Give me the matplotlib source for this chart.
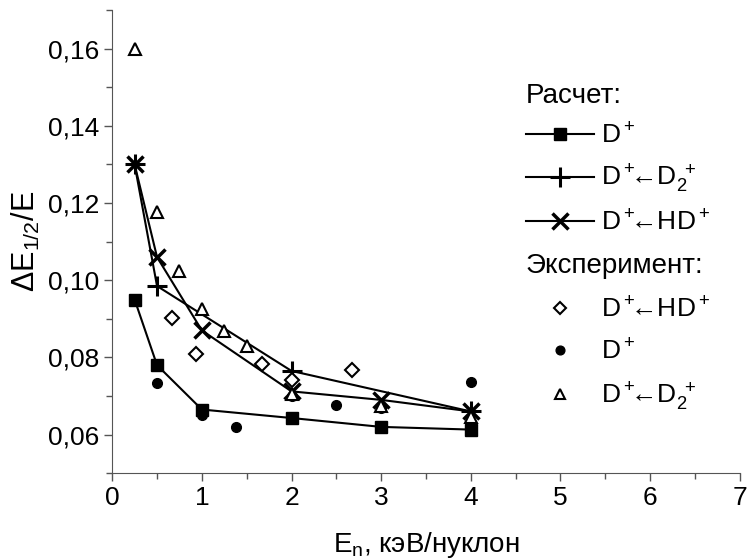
import matplotlib
matplotlib.use('Agg')
from matplotlib import pyplot as plt
from matplotlib.ticker import MultipleLocator, FuncFormatter

plt.rcParams['font.family'] = ['Liberation Sans', 'DejaVu Sans']
plt.rcParams['mathtext.fontset'] = 'custom'
plt.rcParams['mathtext.rm'] = 'Liberation Sans'
plt.rcParams['mathtext.it'] = 'Liberation Sans'
plt.rcParams['mathtext.default'] = 'regular'

# расчет
calc_d_x = [0.25, 0.5, 1, 2, 3, 4]
calc_d_y = [0.095, 0.078, 0.0665, 0.0643, 0.062, 0.0613]
calc_d2_x = [0.25, 0.5, 2, 4]
calc_d2_y = [0.130, 0.0985, 0.0765, 0.066]
calc_hd_x = [0.25, 0.5, 1, 2, 3, 4]
calc_hd_y = [0.130, 0.106, 0.087, 0.0712, 0.0690, 0.066]

# эксперимент
exp_hd_x = [0.67, 0.93, 1.67, 2.0, 2.68]
exp_hd_y = [0.0903, 0.0808, 0.0783, 0.0742, 0.0768]
exp_d_x = [0.5, 1.0, 1.38, 2.0, 2.5, 3.0, 4.0]
exp_d_y = [0.0734, 0.0652, 0.0620, 0.0700, 0.0678, 0.0670, 0.0736]
exp_d2_x = [0.25, 0.5, 0.75, 1.0, 1.25, 1.5, 2.0, 3.0, 4.0]
exp_d2_y = [0.160, 0.1177, 0.1023, 0.0926, 0.0869, 0.0830, 0.0705, 0.0675, 0.0645]

lbl_d = r'D$^+$'
lbl_d2 = r'D$^+\!\!$←D$_2^{\ +}$'
lbl_hd = r'D$^+\!\!$←HD$^+$'

fig = plt.figure(figsize=(7.48, 5.6), dpi=100)
ax = fig.add_axes([0.150, 0.155, 0.839, 0.827])

h1, = ax.plot(calc_d_x, calc_d_y, '-s', color='black', lw=1.5, ms=9, label=lbl_d)
h2, = ax.plot(calc_d2_x, calc_d2_y, '-+', color='black', lw=1.5, ms=14, mew=2.2, label=lbl_d2)
h3, = ax.plot(calc_hd_x, calc_hd_y, '-x', color='black', lw=1.5, ms=12, mew=2.5, label=lbl_hd)

e1, = ax.plot(exp_hd_x, exp_hd_y, 'D', mfc='white', mec='black', mew=1.5, ms=7, ls='none', label=lbl_hd)
e2, = ax.plot(exp_d_x, exp_d_y, 'o', color='black', ms=7, ls='none', label=lbl_d)
e3, = ax.plot(exp_d2_x, exp_d2_y, '^', mfc='white', mec='black', mew=1.5, ms=8, ls='none', label=lbl_d2)

ax.set_xlim(0, 7)
ax.set_ylim(0.05, 0.17)
ax.xaxis.set_major_locator(MultipleLocator(1))
ax.xaxis.set_minor_locator(MultipleLocator(0.5))
ax.yaxis.set_major_locator(MultipleLocator(0.02))
ax.yaxis.set_minor_locator(MultipleLocator(0.01))
ax.yaxis.set_major_formatter(FuncFormatter(lambda v, p: f'{v:.2f}'.replace('.', ',')))
ax.tick_params(which='major', direction='out', length=6, width=1, labelsize=19, color='#555555')
ax.tick_params(which='minor', direction='out', length=4, width=1, color='#555555')
for s in ['top', 'right']:
    ax.spines[s].set_visible(False)
for s in ['left', 'bottom']:
    ax.spines[s].set_color('#555555')

ax.set_xlabel(r'E$_n$, кэВ/нуклон', fontsize=20, labelpad=14)
ax.set_ylabel(r'ΔE$_{1/2}$/E', fontsize=22, labelpad=4)

leg1 = fig.legend(handles=[h1, h2, h3], title='Расчет:', loc='upper left',
                  bbox_to_anchor=(0.703, 0.851), frameon=False, fontsize=19,
                  title_fontsize=20, alignment='left', borderpad=0, borderaxespad=0,
                  handlelength=2.6, handletextpad=0.25, labelspacing=0.55)
leg2 = fig.legend(handles=[e1, e2, e3], title='Эксперимент:', loc='upper left',
                  bbox_to_anchor=(0.703, 0.548), frameon=False, fontsize=19,
                  title_fontsize=20, alignment='left', borderpad=0, borderaxespad=0,
                  handlelength=2.6, handletextpad=0.25, labelspacing=0.62, markerscale=0.9)
leg1._legend_box.sep = 10
leg2._legend_box.sep = 13

fig.savefig('out.png', dpi=100)
